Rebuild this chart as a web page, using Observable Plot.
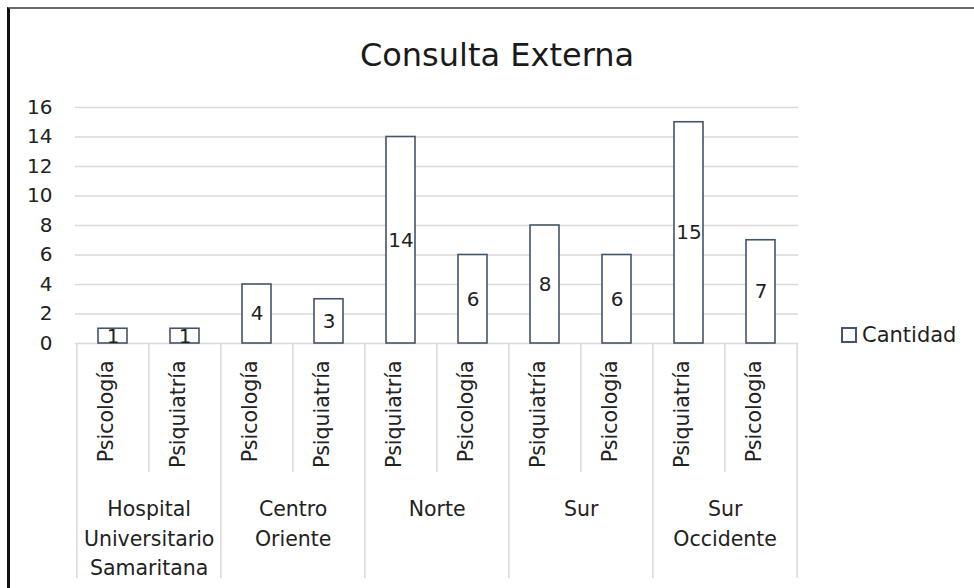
<!DOCTYPE html>
<html>
<head>
<meta charset="utf-8">
<script src="https://cdn.jsdelivr.net/npm/d3@7"></script>
<script src="https://cdn.jsdelivr.net/npm/@observablehq/plot@0.6"></script>
<style>
  html, body { margin: 0; padding: 0; background: #fff; }
  #wrap { position: relative; width: 974px; height: 588px; overflow: hidden; font-family: "DejaVu Sans", sans-serif; color: #222; }
  #frame { position: absolute; left: 7px; top: 7px; width: 980px; height: 600px; border-left: 3px solid #111; border-top: 2px solid #6a6a6a; box-sizing: border-box; }
  #title { position: absolute; left: 0; top: 39px; width: 974px; padding-left: 20px; box-sizing: border-box; text-align: center; font-size: 32px; line-height: 32px; color: #1a1a1a; }
  #chart { position: absolute; left: 0; top: 0; }
  #legend { position: absolute; left: 841px; top: 324px; display: flex; align-items: center; font-size: 21px; line-height: 22px; color: #1f1f1f; }
  #legend .sw { width: 12px; height: 12px; border: 2px solid #44546a; background: #fff; margin-right: 5px; }
</style>
</head>
<body>
<div id="wrap">
  <div id="frame"></div>
  <div id="chart"></div>
  <div id="title">Consulta Externa</div>
  <div id="legend"><div class="sw"></div><span>Cantidad</span></div>
</div>
<script>
// ---- data ----
const groups = ["Hospital\nUniversitario\nSamaritana", "Centro\nOriente", "Norte", "Sur", "Sur\nOccidente"];
const subcategories = ["Psicología", "Psiquiatría", "Psicología", "Psiquiatría", "Psiquiatría", "Psicología", "Psiquiatría", "Psicología", "Psiquiatría", "Psicología"];
const groupIndex = [0, 0, 1, 1, 2, 2, 3, 3, 4, 4];
const cantidad = [1, 1, 4, 3, 14, 6, 8, 6, 15, 7];
const yTicks = [0, 2, 4, 6, 8, 10, 12, 14, 16];
const seriesName = "Cantidad";

// ---- layout ----
const W = 974, H = 588;
const mL = 75, mR = 176, mT = 107, mB = 245;
const step = (W - mL - mR) / subcategories.length;

const rows = cantidad.map((v, i) => ({i, v, sub: subcategories[i], g: groupIndex[i]}));
const groupRows = groups.map((name, g) => ({name, first: groupIndex.indexOf(g)}));

// separators: short between subcategories within a group, long between groups
const shortSeps = rows.filter(d => d.i > 0 && groupIndex[d.i] === groupIndex[d.i - 1]);
const longSeps = rows.filter(d => d.i === 0 || groupIndex[d.i] !== groupIndex[d.i - 1]);
const lastRow = rows.slice(-1);

const chart = Plot.plot({
  width: W,
  height: H,
  marginLeft: mL,
  marginRight: mR,
  marginTop: mT,
  marginBottom: mB,
  style: {fontFamily: "DejaVu Sans, sans-serif", fontSize: "20px", color: "#222", background: "transparent"},
  x: {type: "band", domain: rows.map(d => d.i), paddingInner: 0.6, paddingOuter: 0.3, axis: null},
  y: {domain: [0, 16], axis: null},
  marks: [
    Plot.ruleY(yTicks, {stroke: "#d9d9d9", strokeWidth: 1.5}),
    Plot.axisY(yTicks, {tickSize: 0, tickPadding: 23, fontSize: 20, fill: "#222", label: null, tickFormat: d => String(d)}),
    Plot.ruleX(shortSeps, {x: "i", dx: -step / 2, stroke: "#d9d9d9", strokeWidth: 1.5, insetTop: H - mT - mB, insetBottom: -129}),
    Plot.ruleX(longSeps, {x: "i", dx: -step / 2, stroke: "#d9d9d9", strokeWidth: 1.5, insetTop: H - mT - mB, insetBottom: -235}),
    Plot.ruleX(lastRow, {x: "i", dx: step / 2, stroke: "#d9d9d9", strokeWidth: 1.5, insetTop: H - mT - mB, insetBottom: -235}),
    Plot.barY(rows, {x: "i", y: "v", fill: "white", stroke: "#44546a", strokeWidth: 1.6}),
    Plot.text(rows, {x: "i", y: d => d.v / 2, text: d => String(d.v), fontSize: 20, fill: "#1f1f1f"}),
    Plot.text(rows, {x: "i", text: "sub", frameAnchor: "bottom", dy: 17, rotate: -90, textAnchor: "end", fontSize: 20.5, fill: "#222"}),
    Plot.text(groupRows, {x: "first", dx: step / 2, text: "name", frameAnchor: "bottom", lineAnchor: "top", dy: 152, lineHeight: 1.44, fontSize: 20.5, fill: "#222"})
  ]
});
document.getElementById("chart").appendChild(chart);
document.querySelector("#legend span").textContent = seriesName;
</script>
</body>
</html>
